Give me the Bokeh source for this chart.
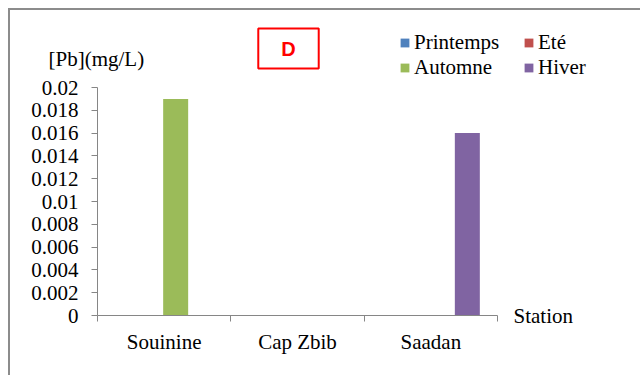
from bokeh.plotting import figure
from bokeh.models import (ColumnDataSource, FixedTicker, Legend, LegendItem, Label, Range1d)
from bokeh.embed import file_html
from bokeh.resources import INLINE

stations = ["Souinine", "Cap Zbib", "Saadan"]
seasons = ["Printemps", "Eté", "Automne", "Hiver"]
colors = ["#4F81BD", "#C0504D", "#9BBB59", "#8064A2"]
printemps = [0.0, 0.0, 0.0]
ete = [0.0, 0.0, 0.0]
automne = [0.019, 0.0, 0.0]
hiver = [0.0, 0.0, 0.016]
y_ticks = [0, 0.002, 0.004, 0.006, 0.008, 0.01, 0.012, 0.014, 0.016, 0.018, 0.02]
y_tick_labels = ["0", "0.002", "0.004", "0.006", "0.008", "0.01", "0.012", "0.014", "0.016", "0.018", "0.02"]
y_max = 0.02

FONT = "Liberation Serif"
FS = "21px"
AX = "#868686"

# frame covers the whole canvas; axes are pinned inside it
n = len(stations)
px_per_x = 400 / n          # frame pixels per category
px_per_y = 228 / y_max      # frame pixels per mg/L
p = figure(width=632, height=367, output_backend="svg", toolbar_location=None,
           x_range=Range1d(-87 / px_per_x, n + 145 / px_per_x),
           y_range=Range1d(-62 / px_per_y, y_max + 77 / px_per_y),
           min_border=0, min_border_left=0, min_border_right=0,
           min_border_top=0, min_border_bottom=0)
p.styles = {"margin-left": "8px", "margin-top": "8px",
            "border-left": "2px solid #8c8c8c", "border-top": "2px solid #8c8c8c"}
p.outline_line_color = None
p.grid.visible = False
p.background_fill_color = "white"
p.border_fill_color = "white"

series = [printemps, ete, automne, hiver]
bw = 0.1875
offsets = [-0.3825, -0.195, -0.0075, 0.18]
renderers = []
for vals, col, off in zip(series, colors, offsets):
    xs = [i + 0.5 + off + bw / 2 for i in range(n)]
    src = ColumnDataSource(dict(x=xs, top=vals))
    r = p.vbar(x="x", top="top", bottom=0, width=bw, source=src, fill_color=col, line_color=None)
    renderers.append(r)

# x axis
xa = p.xaxis[0]
xa.fixed_location = 0
xa.bounds = (0, n)
xa.ticker = FixedTicker(ticks=[i + 0.5 for i in range(n)], minor_ticks=list(range(n + 1)))
xa.major_label_overrides = {i + 0.5: s for i, s in enumerate(stations)}
xa.major_tick_out = 0
xa.major_tick_in = 0
xa.minor_tick_out = 6
xa.minor_tick_in = 0
xa.minor_tick_line_color = AX
xa.axis_line_color = AX
xa.major_label_standoff = 8
xa.major_label_text_font = FONT
xa.major_label_text_font_size = FS
xa.major_label_text_color = "black"

ya = p.yaxis[0]
ya.fixed_location = 0
ya.bounds = (0, y_max)
ya.ticker = FixedTicker(ticks=y_ticks, minor_ticks=[])
ya.major_label_overrides = {t: l for t, l in zip(y_ticks, y_tick_labels)}
ya.major_tick_out = 6
ya.major_tick_in = 0
ya.minor_tick_out = 0
ya.major_tick_line_color = AX
ya.axis_line_color = AX
ya.major_label_standoff = 13
ya.major_label_text_font = FONT
ya.major_label_text_font_size = FS
ya.major_label_text_color = "black"

# axis titles
p.add_layout(Label(x=0, y=y_max, x_offset=-49, y_offset=29, text="[Pb](mg/L)",
                   text_font=FONT, text_font_size=FS, text_align="left",
                   text_baseline="middle", text_color="black"))
p.add_layout(Label(x=n, y=0, x_offset=16, y_offset=0, text="Station",
                   text_font=FONT, text_font_size=FS, text_align="left",
                   text_baseline="middle", text_color="black"))

# panel title "D"
p.add_layout(Label(x=0, y=y_max, x_offset=191, y_offset=39, text="D",
                   text_font="Liberation Sans", text_font_style="bold", text_font_size="20px",
                   text_color="#FF0000", text_align="center", text_baseline="middle",
                   border_line_color="#FF0000", border_line_width=2,
                   background_fill_color="white", padding=(23, 9)))

legend = Legend(items=[LegendItem(label=s, renderers=[r]) for s, r in zip(seasons, renderers)],
                location=(389, 297), ncols=2, orientation="horizontal",
                glyph_width=11, glyph_height=11, label_height=23, label_width=109,
                label_standoff=4, spacing=0, padding=0, margin=0,
                label_text_font=FONT, label_text_font_size=FS, label_text_color="black",
                border_line_color=None, background_fill_alpha=0)
p.add_layout(legend, "center")

open("out.html", "w").write(file_html(p, INLINE))
